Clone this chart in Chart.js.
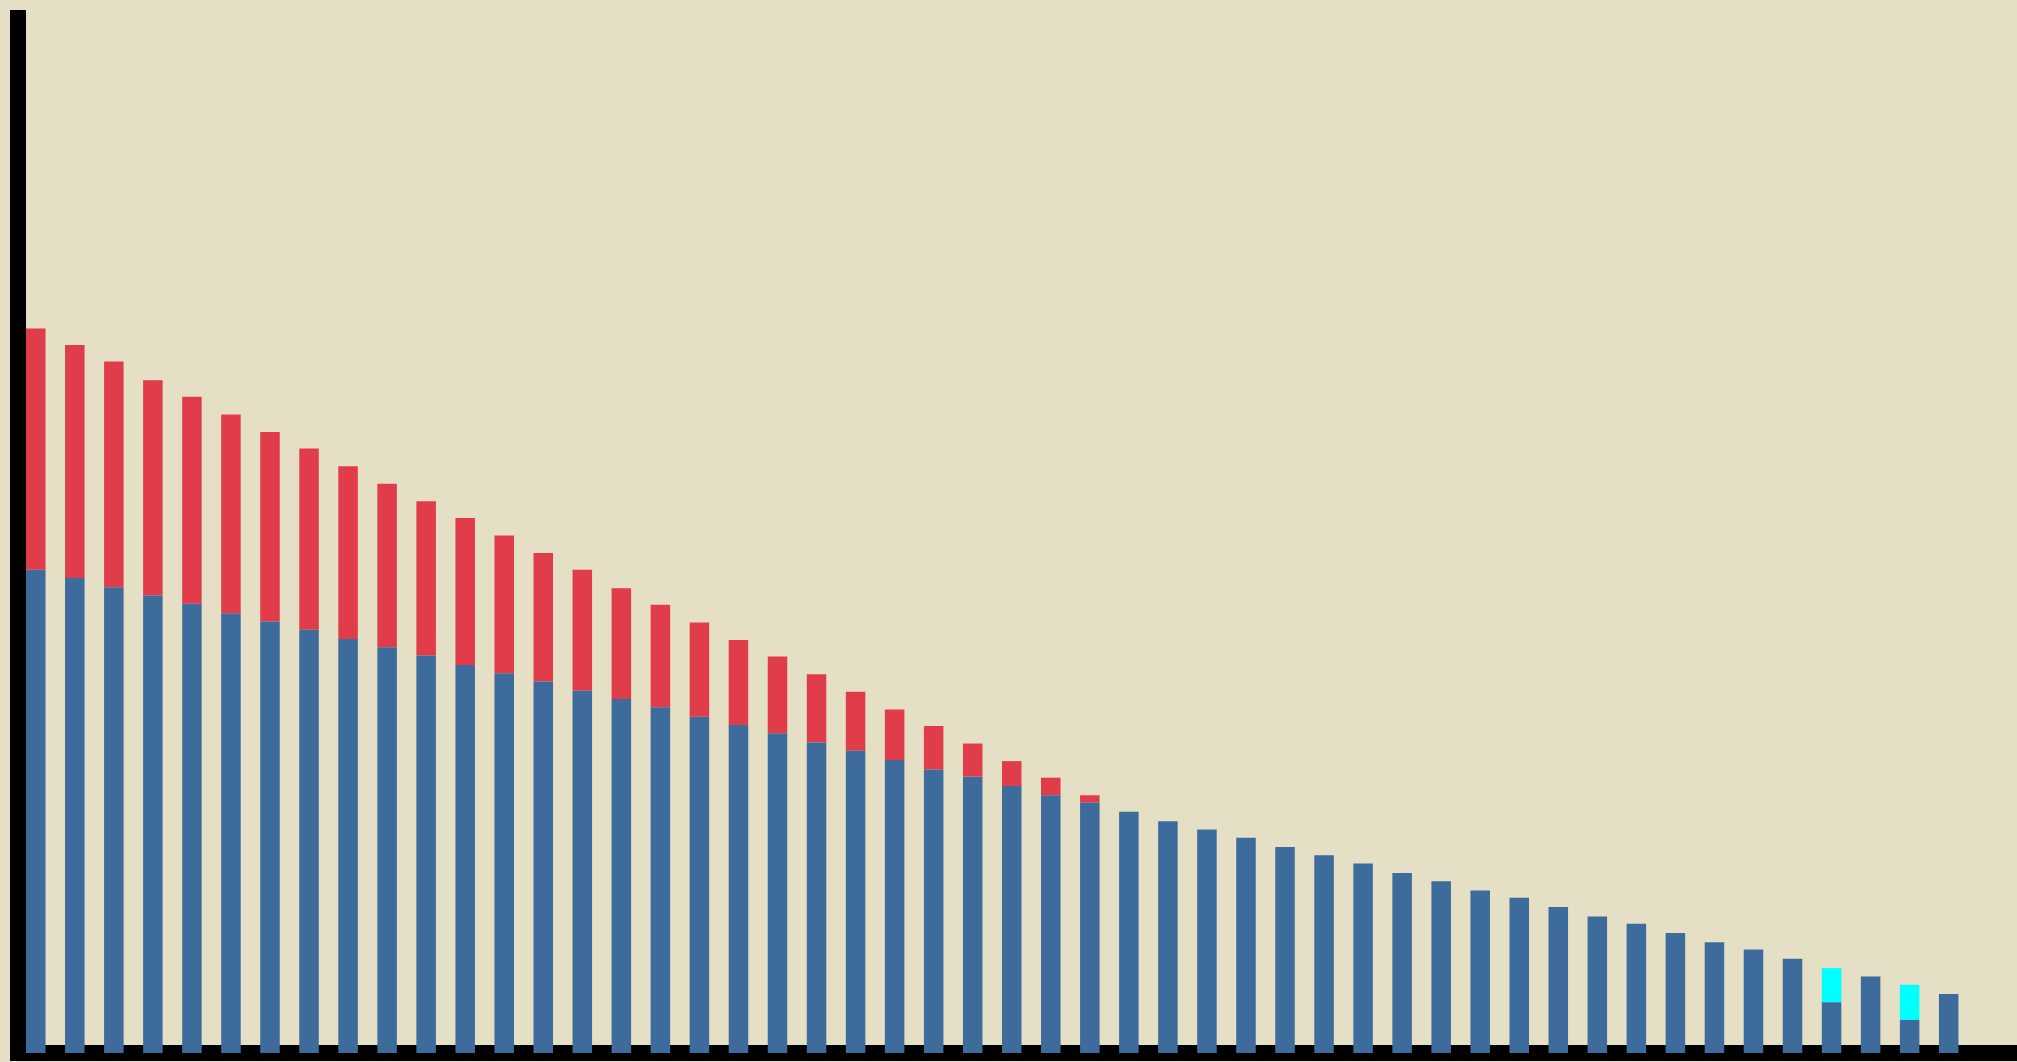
<!DOCTYPE html>
<html>
<head>
<meta charset="utf-8">
<script src="https://cdn.jsdelivr.net/npm/chart.js@4"></script>
<style>
  html, body { margin: 0; padding: 0; background: #e5e0c5; }
  #wrap { width: 2017px; height: 1062px; position: relative; }
</style>
</head>
<body>
<div id="wrap"><canvas id="chart"></canvas></div>
<script>
const periods = [1, 2, 3, 4, 5, 6, 7, 8, 9, 10, 11, 12, 13, 14, 15, 16, 17, 18, 19, 20,
  21, 22, 23, 24, 25, 26, 27, 28, 29, 30, 31, 32, 33, 34, 35, 36, 37, 38, 39, 40,
  41, 42, 43, 44, 45, 46, 47, 48, 49, 50]

const blueValues = [46.7, 45.9, 45.0, 44.2, 43.4, 42.5, 41.7, 40.9, 40.0, 39.2,
  38.4, 37.5, 36.7, 35.9, 35.0, 34.2, 33.4, 32.5, 31.7, 30.9,
  30.0, 29.2, 28.3, 27.4, 26.7, 25.8, 24.9, 24.2, 23.3, 22.4,
  21.6, 20.8, 19.9, 19.1, 18.3, 17.4, 16.6, 15.7, 15.0, 14.1,
  13.2, 12.5, 11.6, 10.7, 10.0, 9.1, 4.9, 7.4, 3.2, 5.7]

const redValues = [23.3, 22.5, 21.8, 20.8, 20.0, 19.2, 18.3, 17.5, 16.7, 15.8,
  14.9, 14.2, 13.3, 12.4, 11.7, 10.7, 9.9, 9.1, 8.2, 7.4,
  6.6, 5.7, 4.9, 4.2, 3.2, 2.4, 1.7, 0.7, null, null,
  null, null, null, null, null, null, null, null, null, null,
  null, null, null, null, null, null, null, null, null, null]

const cyanValues = [null, null, null, null, null, null, null, null, null, null,
  null, null, null, null, null, null, null, null, null, null,
  null, null, null, null, null, null, null, null, null, null,
  null, null, null, null, null, null, null, null, null, null,
  null, null, null, null, null, null, 3.3, null, 3.4, null]

const toPoints = values => periods.map((p, i) => ({ x: p, y: values[i] }))

const ctx = document.getElementById('chart').getContext('2d')

new Chart(ctx, {
  type: 'bar',
  data: {
    datasets: [
      { label: 'Blue', data: toPoints(blueValues), backgroundColor: '#3c6b9c' },
      { label: 'Red', data: toPoints(redValues), backgroundColor: '#e03c4a' },
      { label: 'Cyan', data: toPoints(cyanValues), backgroundColor: '#00ffff' },
    ],
  },
  options: {
    responsive: true,
    maintainAspectRatio: false,
    animation: false,
    events: [],
    layout: { padding: { left: 18, top: 18, right: 0, bottom: 9 } },
    datasets: { bar: { barPercentage: 0.5, categoryPercentage: 1, borderWidth: 0 } },
    plugins: { legend: { display: false }, tooltip: { enabled: false } },
    scales: {
      x: {
        type: 'linear',
        stacked: true,
        offset: false,
        bounds: 'data',
        min: 0.545,
        max: 51.75,
        grid: { display: false, drawTicks: false, offset: false },
        border: { display: true, color: '#000', width: 16 },
        ticks: { display: false, includeBounds: false, stepSize: 10 },
      },
      y: {
        stacked: true,
        min: 0,
        max: 100,
        grid: { display: false, drawTicks: false },
        border: { display: true, color: '#000', width: 16 },
        ticks: { display: false },
      },
    },
  },
})
</script>
</body>
</html>
